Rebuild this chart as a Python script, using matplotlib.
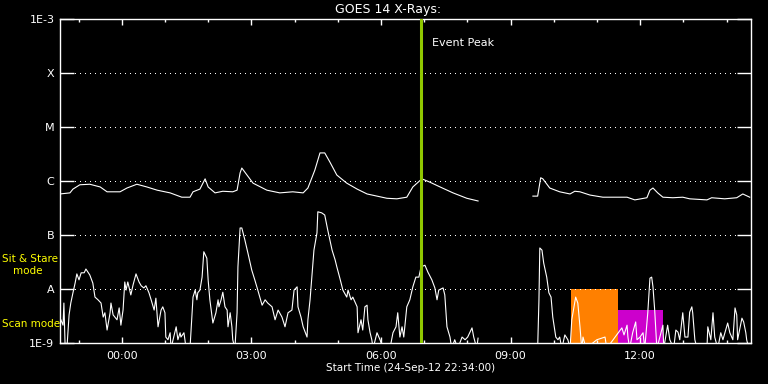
import matplotlib
matplotlib.use("Agg")
import matplotlib.pyplot as plt
import numpy as np

# hours after start time 24-Sep-12 22:34:00
start_label = "Start Time (24-Sep-12 22:34:00)"
start_hour = 22 + 34 / 60

# long channel (1-8 A), log10 flux
long_t = [0.00, 0.23, 0.30, 0.46, 0.69, 0.93, 1.09, 1.39, 1.55, 1.78, 2.01, 2.25, 2.55,
          2.82, 3.01, 3.08, 3.24, 3.36, 3.43, 3.59, 3.77, 4.00, 4.10, 4.17, 4.21, 4.33,
          4.47, 4.79, 5.09, 5.39, 5.63, 5.74, 5.90, 6.02, 6.13, 6.25, 6.41, 6.64, 6.88,
          7.11, 7.57, 7.80, 8.03, 8.17, 8.38, 8.56, 8.80, 9.10, 9.42, 9.68, 10.30,
          10.95, 11.06, 11.13, 11.18, 11.34, 11.57, 11.81, 11.92, 12.04, 12.27, 12.57,
          13.13, 13.31, 13.59, 13.66, 13.73, 13.84, 13.96, 14.19, 14.42, 14.58, 14.98,
          15.09, 15.39, 15.67, 15.81, 15.97]
long_log = [-6.24, -6.22, -6.15, -6.07, -6.06, -6.11, -6.20, -6.20, -6.13, -6.06, -6.11,
            -6.17, -6.22, -6.30, -6.30, -6.20, -6.15, -5.96, -6.11, -6.22, -6.19, -6.20,
            -6.17, -5.85, -5.76, -5.89, -6.04, -6.17, -6.22, -6.20, -6.22, -6.13, -5.80,
            -5.48, -5.48, -5.65, -5.89, -6.04, -6.15, -6.24, -6.32, -6.33, -6.30, -6.11,
            -5.96, -6.02, -6.11, -6.22, -6.32, -6.37, np.nan,
            -6.28, -6.28, -5.94, -5.96, -6.13, -6.20, -6.24, -6.19, -6.20, -6.26, -6.30,
            -6.30, -6.35, -6.31, -6.17, -6.13, -6.22, -6.30, -6.31, -6.30, -6.33, -6.35,
            -6.31, -6.33, -6.31, -6.24, -6.30]

# short channel (0.5-4 A), log10 flux
short_t = [0.02, 0.07, 0.09, 0.12, 0.16, 0.21, 0.25, 0.30, 0.35, 0.39, 0.44, 0.49, 0.56,
           0.60, 0.69, 0.76, 0.81, 0.88, 0.95, 1.00, 1.04, 1.09, 1.16, 1.18, 1.23, 1.27,
           1.32, 1.37, 1.41, 1.46, 1.50, 1.53, 1.57, 1.64, 1.69, 1.76, 1.83, 1.88, 1.94,
           1.99, 2.06, 2.11, 2.18, 2.22, 2.27, 2.34, 2.38, 2.43, 2.45, 2.50, 2.55, 2.57,
           2.69, 2.73, 2.78, 2.80, 2.87, 2.92, 3.01, 3.08, 3.13, 3.17, 3.19, 3.24, 3.29,
           3.33, 3.40, 3.43, 3.47, 3.54, 3.61, 3.66, 3.68, 3.73, 3.77, 3.82, 3.87, 3.89,
           3.94, 3.98, 4.00, 4.05, 4.10, 4.12, 4.17, 4.21, 4.28, 4.35, 4.44, 4.51, 4.58,
           4.68, 4.75, 4.81, 4.91, 4.98, 5.05, 5.14, 5.21, 5.28, 5.37, 5.42, 5.49, 5.51,
           5.58, 5.63, 5.72, 5.74, 5.79, 5.83, 5.88, 5.95, 5.97, 6.06, 6.13, 6.20, 6.30,
           6.37, 6.41, 6.48, 6.55, 6.64, 6.67, 6.74, 6.78, 6.88, 6.90, 6.97, 7.01, 7.06,
           7.11, 7.13, 7.18, 7.22, 7.25, 7.34, 7.41, 7.48, 7.64, 7.71, 7.78, 7.82, 7.87,
           7.92, 7.96, 8.03, 8.10, 8.17, 8.24, 8.31, 8.36, 8.45, 8.52, 8.61, 8.68, 8.73,
           8.77, 8.87, 8.91, 8.96, 9.03, 9.07, 9.14, 9.21, 9.31, 9.38, 9.44, 9.54, 9.58,
           9.65, 9.68, 10.30,
           11.06, 11.09, 11.11, 11.16, 11.20, 11.27, 11.32, 11.37, 11.41, 11.48, 11.53,
           11.57, 11.62, 11.69, 11.76, 11.81, 11.85, 11.94, 11.99, 12.04, 12.08, 12.11,
           12.18, 12.43, 12.62, 12.66, 13.01, 13.06, 13.13, 13.15, 13.19, 13.26, 13.33,
           13.36, 13.43, 13.50, 13.54, 13.61, 13.66, 13.70, 13.73, 13.77, 13.82, 13.89,
           13.96, 13.98, 14.07, 14.12, 14.21, 14.26, 14.31, 14.35, 14.42, 14.47, 14.54,
           14.58, 14.63, 14.65, 14.70, 14.75, 14.98, 15.00, 15.07, 15.12, 15.16, 15.23,
           15.30, 15.35, 15.46, 15.51, 15.58, 15.63, 15.67, 15.69, 15.79, 15.83, 15.88,
           15.90, 15.95]
short_log = [-8.57, -8.67, -8.26, -9.1, -9.1, -8.48, -8.26, -8.07, -7.89, -7.72, -7.83,
             -7.70, -7.70, -7.63, -7.74, -7.89, -8.15, -8.20, -8.26, -8.52, -8.44, -8.76,
             -8.44, -8.26, -8.48, -8.52, -8.57, -8.35, -8.67, -8.39, -7.87, -8.02, -7.87,
             -8.11, -7.93, -7.72, -7.87, -7.94, -7.98, -7.94, -8.07, -8.20, -8.39, -8.17,
             -8.70, -8.39, -8.33, -8.44, -8.89, -8.94, -8.81, -9.1, -8.70, -8.94, -8.81,
             -8.89, -8.81, -9.1, -9.1, -8.15, -8.02, -8.20, -8.07, -8.02, -7.78, -7.31,
             -7.43, -7.83, -8.20, -8.63, -8.44, -8.20, -8.33, -8.20, -8.06, -8.33, -8.39,
             -8.70, -8.44, -8.70, -8.94, -9.1, -8.44, -7.59, -6.87, -6.87, -7.09, -7.33,
             -7.65, -7.83, -8.02, -8.30, -8.20, -8.26, -8.33, -8.57, -8.39, -8.52, -8.70,
             -8.44, -8.39, -8.02, -7.96, -8.33, -8.52, -8.70, -8.89, -8.57, -8.20, -7.78,
             -7.28, -6.96, -6.57, -6.59, -6.63, -6.91, -7.28, -7.46, -7.59, -7.80, -8.02,
             -8.15, -8.02, -8.20, -8.15, -8.33, -8.81, -8.57, -8.76, -8.33, -8.30, -8.57,
             -8.81, -8.94, -9.1, -8.81, -8.94, -9.1, -9.1, -8.81, -8.70, -8.44, -8.89,
             -8.70, -8.89, -8.33, -8.20, -7.96, -7.78, -7.78, -7.59, -7.56, -7.69, -7.83,
             -7.98, -8.20, -8.02, -7.98, -8.11, -8.70, -8.89, -9.1, -8.94, -9.1, -8.89,
             -8.94, -8.89, -8.72, -8.89, -9.1, -8.91, np.nan,
             -9.1, -8.20, -7.24, -7.28, -7.52, -7.78, -8.07, -8.15, -8.52, -8.89, -8.94,
             -8.89, -9.1, -8.85, -8.94, -9.1, -8.57, -8.15, -8.26, -8.70, -9.1, -8.89,
             -9.1, -8.94, -8.89, -9.1, -8.72, -8.85, -8.67, -8.89, -9.1, -8.81, -8.61,
             -8.94, -8.89, -8.81, -9.1, -8.44, -7.80, -7.78, -7.96, -8.39, -9.1, -8.89,
             -8.67, -9.1, -8.67, -8.94, -9.1, -8.76, -8.80, -8.94, -8.44, -8.89, -8.89,
             -8.43, -8.33, -8.44, -8.94, -9.1, -9.1, -8.70, -8.94, -8.44, -8.89, -9.1,
             -8.81, -8.94, -8.63, -8.81, -8.94, -8.35, -8.48, -8.94, -8.54, -8.61, -8.81,
             -8.94, -9.1]

event_peak = 8.37  # ~06:56
# observing mode blocks: (start, end, top flux)
sit_stare = (11.83, 12.93, 1e-8)
scan = (12.93, 13.97, 4.1e-9)

level_vals = [1e-9, 1e-8, 1e-7, 1e-6, 1e-5, 1e-4, 1e-3]
level_labels = ["1E-9", "A", "B", "C", "M", "X", "1E-3"]

fig = plt.figure(figsize=(7.68, 3.84), dpi=100, facecolor="black")
ax = fig.add_axes([60 / 768, 41 / 384, 691 / 768, 324 / 384])
ax.set_facecolor("black")

ax.fill_between([sit_stare[0], sit_stare[1]], 1e-9, sit_stare[2], color="#ff8000", lw=0, zorder=1)
ax.fill_between([scan[0], scan[1]], 1e-9, scan[2], color="#cc00cc", lw=0, zorder=1)

ax.plot(long_t, 10 ** np.array(long_log), color="white", lw=0.8, zorder=3)
ax.plot(short_t, 10 ** np.array(short_log), color="white", lw=0.8, zorder=3)

ax.axvline(event_peak, color="#90c800", lw=2.2, zorder=4)
ax.text(event_peak + 0.25, 10 ** -3.45, "Event Peak", color="white", fontsize=8, va="center")

ax.set_yscale("log")
ax.set_ylim(1e-9, 1e-3)
ax.set_xlim(0, 16)
ax.set_yticks(level_vals)
ax.set_yticklabels(level_labels)
ax.minorticks_off()
for v in level_vals[1:-1]:
    ax.axhline(v, color="white", lw=0.72, ls=(0, (1, 5)), antialiased=False, zorder=2)

first_hour = (24 - start_hour) % 1
hour_ticks = np.arange(first_hour, 16, 1.0)
major = [h for h in hour_ticks if round(start_hour + h) % 3 == 0]
minor = [h for h in hour_ticks if round(start_hour + h) % 3 != 0]
ax.set_xticks(major)
ax.set_xticklabels(["%02d:00" % (round(start_hour + h) % 24) for h in major])
ax.set_xticks(minor, minor=True)

ax.tick_params(axis="y", which="major", direction="in", length=10, width=1, color="white",
               labelcolor="white", labelsize=8, pad=4, left=True, right=True)
ax.tick_params(axis="x", which="major", direction="in", length=4.5, width=1, color="white",
               labelcolor="white", labelsize=8, pad=6, top=True, bottom=True)
ax.tick_params(axis="x", which="minor", direction="in", length=2.3, width=1, color="white",
               top=True, bottom=True)

for s in ax.spines.values():
    s.set_color("white")
    s.set_linewidth(1)

fig.text(388 / 768, 1 - 9 / 384, "GOES 14 X-Rays:", color="white", fontsize=9, ha="center", va="center")
fig.text(411 / 768, 1 - 368 / 384, start_label, color="white", fontsize=7.5, ha="center", va="center")
fig.text(2 / 768, 1 - 259 / 384, "Sit & Stare", color="#ffff00", fontsize=7.5, ha="left", va="center")
fig.text(13 / 768, 1 - 271 / 384, "mode", color="#ffff00", fontsize=7.5, ha="left", va="center")
fig.text(2 / 768, 1 - 324 / 384, "Scan mode", color="#ffff00", fontsize=7.5, ha="left", va="center")

fig.savefig("out.png", dpi=100, facecolor="black")
